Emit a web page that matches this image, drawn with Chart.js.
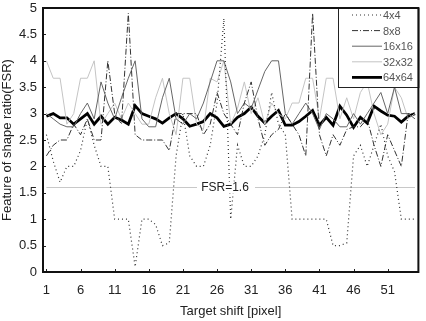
<!DOCTYPE html>
<html>
<head>
<meta charset="utf-8">
<script src="https://cdn.jsdelivr.net/npm/chart.js@4.4.0/dist/chart.umd.min.js"></script>
<style>
  html, body { margin: 0; padding: 0; background: #fff; }
  #wrap { width: 426px; height: 321px; }
</style>
</head>
<body>
<div id="wrap"><canvas id="fsrChart" width="426" height="321"></canvas></div>
<script>
// target shift positions 1..55
const shifts = [];
for (let s = 1; s <= 55; s++) shifts.push(String(s));

const yTicks = [0, 0.5, 1, 1.5, 2, 2.5, 3, 3.5, 4, 4.5, 5];

const fsr4 = [2.6, 2.1, 1.7, 2.0, 2.0, 2.3, 2.9, 2.4, 2.0, 2.0,
  1.0, 1.0, 1.0, 0.1, 1.0, 1.0, 0.9, 0.5, 0.55, 2.2,
  3.0, 2.2, 2.0, 2.0, 2.4, 3.2, 4.8, 1.0, 2.4, 2.0,
  2.0, 2.2, 2.6, 3.4, 2.8, 2.6, 1.0, 1.0, 1.0, 1.0,
  1.0, 1.0, 0.5, 0.5, 0.55, 2.2, 2.4, 2.0, 2.4, 2.8,
  2.2, 1.9, 1.0, 1.0, 1.0];

const fsr8 = [2.2, 2.4, 2.5, 2.5, 2.8, 2.6, 2.9, 2.5, 2.5, 4.0,
  3.0, 2.8, 4.9, 2.6, 2.5, 2.5, 2.5, 2.5, 2.3, 3.0,
  3.0, 3.0, 3.0, 2.6, 2.8, 3.4, 3.0, 2.8, 2.6, 3.2,
  3.6, 2.9, 2.4, 2.6, 2.7, 3.0, 2.8, 2.6, 2.2, 4.9,
  2.6, 2.2, 2.6, 2.4, 2.7, 2.75, 2.75, 2.9, 2.4, 2.0,
  2.6, 2.3, 2.0, 3.0, 3.0];

const fsr16 = [3.0, 2.9, 2.8, 2.75, 2.75, 3.0, 3.2, 2.9, 3.6, 3.2,
  2.9, 3.3, 3.67, 4.0, 2.9, 2.75, 2.75, 3.3, 3.67, 2.9,
  2.8, 3.0, 2.9, 3.2, 3.6, 4.0, 4.0, 3.6, 3.0, 3.2,
  3.1, 3.45, 3.8, 4.0, 4.0, 3.0, 2.8, 3.0, 3.2, 3.0,
  2.7, 3.0, 2.9, 2.75, 2.75, 3.0, 2.8, 3.0, 3.2, 3.4,
  3.0, 3.5, 3.0, 3.0, 2.9];

const fsr32 = [4.0, 3.67, 3.67, 2.8, 3.0, 3.67, 3.67, 4.0, 2.8, 3.0,
  3.2, 2.9, 3.2, 3.0, 2.8, 2.8, 3.3, 3.67, 3.0, 2.6,
  3.67, 3.67, 2.8, 2.7, 3.67, 3.6, 4.0, 2.8, 3.1, 3.6,
  3.0, 3.3, 2.8, 3.2, 3.0, 2.9, 3.2, 3.2, 3.67, 3.67,
  2.9, 3.67, 3.67, 2.9, 3.3, 2.9, 3.4, 3.6, 3.0, 2.6,
  2.8, 3.5, 3.3, 2.9, 3.0];

const fsr64 = [2.95, 3.0, 2.92, 2.92, 2.8, 2.9, 3.0, 2.8, 2.95, 2.8,
  2.93, 2.88, 2.8, 3.15, 3.0, 2.95, 2.9, 2.82, 2.92, 3.0,
  2.9, 2.76, 2.8, 2.85, 3.0, 2.92, 2.76, 2.8, 2.93, 3.0,
  3.12, 2.95, 2.82, 2.95, 3.06, 2.78, 2.78, 2.85, 2.95, 3.06,
  2.78, 2.93, 2.78, 3.14, 2.97, 2.74, 2.93, 2.82, 3.14, 3.05,
  2.97, 2.95, 2.84, 2.95, 3.0];

const fsrLimit = shifts.map(() => 1.6);

const seriesNames = ['4x4', '8x8', '16x16', '32x32', '64x64'];

const FONT = 'Arial, "Liberation Sans", sans-serif';

function lineSet(label, data, color, width, dash) {
  return {
    label: label,
    data: data,
    borderColor: color,
    borderWidth: width,
    borderDash: dash,
    pointRadius: 0,
    tension: 0,
    fill: false
  };
}

// frame, inward ticks, FSR label and the legend box
const decorations = {
  id: 'decorations',
  afterDatasetsDraw(chart) {
    const ctx = chart.ctx;
    const a = chart.chartArea;
    const xs = chart.scales.x;
    const ys = chart.scales.y;
    ctx.save();

    // FSR=1.6 label
    const yL = ys.getPixelForValue(1.6);
    ctx.fillStyle = '#fff';
    ctx.fillRect(197, yL - 6, 58, 12);
    ctx.fillStyle = '#222';
    ctx.font = '12px ' + FONT;
    ctx.textAlign = 'center';
    ctx.textBaseline = 'middle';
    ctx.fillText('FSR=1.6', 225, yL);

    // legend box
    const lx = 338, ly = a.top, lw = a.right - 338, lh = 79;
    ctx.fillStyle = '#fff';
    ctx.fillRect(lx, ly, lw, lh);
    ctx.strokeStyle = '#222';
    ctx.lineWidth = 1;
    ctx.strokeRect(lx + 0.5, ly + 0.5, lw, lh);
    const sets = chart.data.datasets;
    ctx.textAlign = 'left';
    for (let k = 0; k < seriesNames.length; k++) {
      const ds = sets[k];
      const yy = ly + 7 + k * 15.6;
      ctx.beginPath();
      ctx.setLineDash(ds.borderDash || []);
      ctx.strokeStyle = ds.borderColor;
      ctx.lineWidth = ds.borderWidth;
      ctx.moveTo(352, yy);
      ctx.lineTo(382, yy);
      ctx.stroke();
      ctx.setLineDash([]);
      ctx.fillStyle = '#555';
      ctx.font = '11px ' + FONT;
      ctx.fillText(seriesNames[k], 383, yy + 1);
    }

    // inward ticks
    ctx.strokeStyle = '#222';
    ctx.lineWidth = 1;
    ctx.beginPath();
    yTicks.forEach(v => {
      const p = Math.round(ys.getPixelForValue(v)) + 0.5;
      ctx.moveTo(a.left, p); ctx.lineTo(a.left + 3, p);
    });
    for (let i = 0; i < shifts.length; i += 5) {
      const p = Math.round(xs.getPixelForValue(i)) + 0.5;
      ctx.moveTo(p, a.bottom); ctx.lineTo(p, a.bottom - 3);
    }
    ctx.stroke();

    // frame
    ctx.lineWidth = 2;
    ctx.strokeStyle = '#111';
    ctx.strokeRect(a.left, a.top, a.right - a.left, a.bottom - a.top);
    ctx.restore();
  }
};

const ctx = document.getElementById('fsrChart').getContext('2d');
const fsrChart = new Chart(ctx, {
  type: 'line',
  data: {
    labels: shifts,
    datasets: [
      lineSet('4x4', fsr4, '#333', 1.2, [1, 3]),
      lineSet('8x8', fsr8, '#333', 1, [6, 2, 1, 2]),
      lineSet('16x16', fsr16, '#666', 1, []),
      lineSet('32x32', fsr32, '#c4c4c4', 1, []),
      lineSet('64x64', fsr64, '#000', 2.8, []),
      lineSet('FSR', fsrLimit, '#c8c8c8', 1.2, [])
    ]
  },
  options: {
    responsive: false,
    animation: false,
    layout: { padding: { top: 8, right: 2, left: 0, bottom: 0 } },
    plugins: {
      legend: { display: false },
      tooltip: { enabled: false }
    },
    scales: {
      x: {
        offset: true,
        grid: { display: false, drawTicks: false },
        border: { display: false },
        ticks: {
          autoSkip: false,
          maxRotation: 0,
          padding: 11,
          color: '#222',
          font: { family: FONT, size: 13 },
          callback: function(value, index) {
            return index % 5 === 0 ? shifts[index] : '';
          }
        },
        title: {
          display: true,
          text: 'Target shift [pixel]',
          color: '#222',
          font: { family: FONT, size: 13 },
          padding: { top: 6, bottom: 2 }
        },
        afterFit: function(scale) { scale.height = 49; }
      },
      y: {
        min: 0,
        max: 5,
        grid: { display: false, drawTicks: false },
        border: { display: false },
        ticks: {
          stepSize: 0.5,
          padding: 6,
          color: '#222',
          font: { family: FONT, size: 13 },
          callback: function(value) { return String(value); }
        },
        title: {
          display: true,
          text: 'Feature of shape ratio(FSR)',
          color: '#222',
          font: { family: FONT, size: 13 },
          padding: { top: 0, bottom: 2 }
        },
        afterFit: function(scale) {
          scale.width = 43;
          scale.paddingTop = 0;
          scale.paddingBottom = 0;
        }
      }
    }
  },
  plugins: [decorations]
});
</script>
</body>
</html>
